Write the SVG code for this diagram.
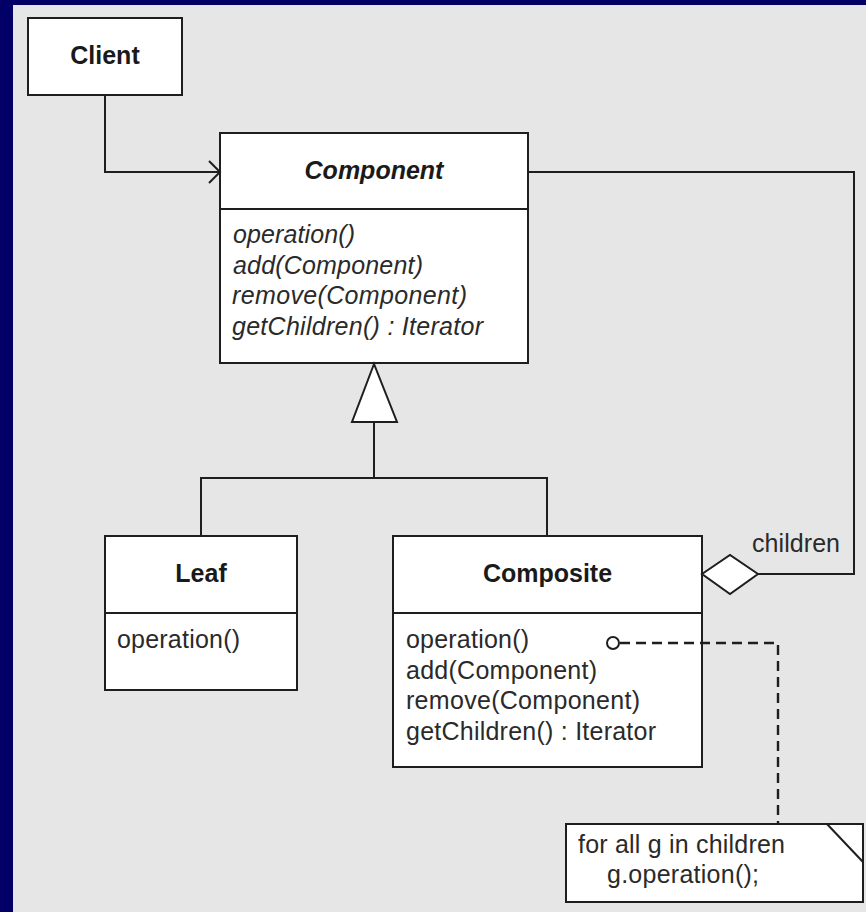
<svg xmlns="http://www.w3.org/2000/svg" width="866" height="912" viewBox="0 0 866 912">
  <style>
    .box { fill: #ffffff; stroke: #1e1e1e; stroke-width: 2; }
    .line { fill: none; stroke: #1e1e1e; stroke-width: 2; }
    .dash { fill: none; stroke: #1e1e1e; stroke-width: 2.4; stroke-dasharray: 10 6; }
    .title { font-family: "Liberation Sans", Arial, sans-serif; font-size: 25px; font-weight: bold; fill: #1a1a1a; text-anchor: middle; }
    .abstract { font-style: italic; }
    .member { font-family: "Liberation Sans", Arial, sans-serif; font-size: 25px; fill: #2a2a2a; }
    .italic { font-style: italic; }
  </style>

  <!-- page background with navy frame on the left and top -->
  <rect x="0" y="0" width="866" height="912" fill="#020066"/>
  <rect x="13" y="5" width="853" height="907" fill="#e6e6e6"/>

  <!-- Client -->
  <g id="client">
    <rect class="box" x="28" y="18" width="154" height="77"/>
    <text class="title" x="105" y="64">Client</text>
  </g>

  <!-- Component (abstract) -->
  <g id="component">
    <rect class="box" x="220" y="133" width="308" height="230"/>
    <line class="line" x1="220" y1="209" x2="528" y2="209"/>
    <text class="title abstract" x="374" y="179">Component</text>
    <text class="member italic" x="233" y="243" textLength="122" lengthAdjust="spacing">operation()</text>
    <text class="member italic" x="233" y="273.5" textLength="190" lengthAdjust="spacing">add(Component)</text>
    <text class="member italic" x="232" y="304" textLength="235" lengthAdjust="spacing">remove(Component)</text>
    <text class="member italic" x="232" y="334.5" textLength="251" lengthAdjust="spacing">getChildren() : Iterator</text>
  </g>

  <!-- Leaf -->
  <g id="leaf">
    <rect class="box" x="105" y="536" width="192" height="154"/>
    <line class="line" x1="105" y1="613" x2="297" y2="613"/>
    <text class="title" x="201" y="582">Leaf</text>
    <text class="member" x="117" y="648" textLength="123" lengthAdjust="spacing">operation()</text>
  </g>

  <!-- Composite -->
  <g id="composite">
    <rect class="box" x="393" y="536" width="309" height="231"/>
    <line class="line" x1="393" y1="613" x2="702" y2="613"/>
    <text class="title" x="547.5" y="582">Composite</text>
    <text class="member" x="406" y="648" textLength="123" lengthAdjust="spacing">operation()</text>
    <text class="member" x="406" y="678.5" textLength="191" lengthAdjust="spacing">add(Component)</text>
    <text class="member" x="406" y="709" textLength="234" lengthAdjust="spacing">remove(Component)</text>
    <text class="member" x="406" y="739.5" textLength="250" lengthAdjust="spacing">getChildren() : Iterator</text>
  </g>

  <!-- note on Composite.operation() -->
  <g id="note">
    <rect class="box" x="566" y="824" width="297" height="78"/>
    <line class="line" x1="827" y1="824" x2="863" y2="862"/>
    <text class="member" x="578" y="853" textLength="207" lengthAdjust="spacing">for all g in children</text>
    <text class="member" x="607" y="883" textLength="152" lengthAdjust="spacing">g.operation();</text>
  </g>

  <!-- connectors -->
  <g id="connectors">
    <!-- Client uses Component -->
    <polyline class="line" points="105,95 105,172 220,172"/>
    <polyline class="line" points="209,161 220,172 209,183" stroke="#555"/>

    <!-- generalization: Leaf and Composite extend Component -->
    <polygon class="box" points="374,364 352,422 397,422"/>
    <polyline class="line" points="374,422 374,478"/>
    <polyline class="line" points="201,536 201,478 547,478 547,536"/>

    <!-- aggregation: Composite holds children Components -->
    <polyline class="line" points="528,172 854,172 854,574 758,574"/>
    <polygon class="box" points="702,574 730,555 758,574 730,594"/>
    <text class="member" x="752" y="552" textLength="88" lengthAdjust="spacing">children</text>

    <!-- note attachment to Composite.operation() -->
    <circle cx="613" cy="643" r="6" fill="#ffffff" stroke="#1e1e1e" stroke-width="2"/>
    <polyline class="dash" points="620,643 778,643 778,824"/>
  </g>
</svg>
